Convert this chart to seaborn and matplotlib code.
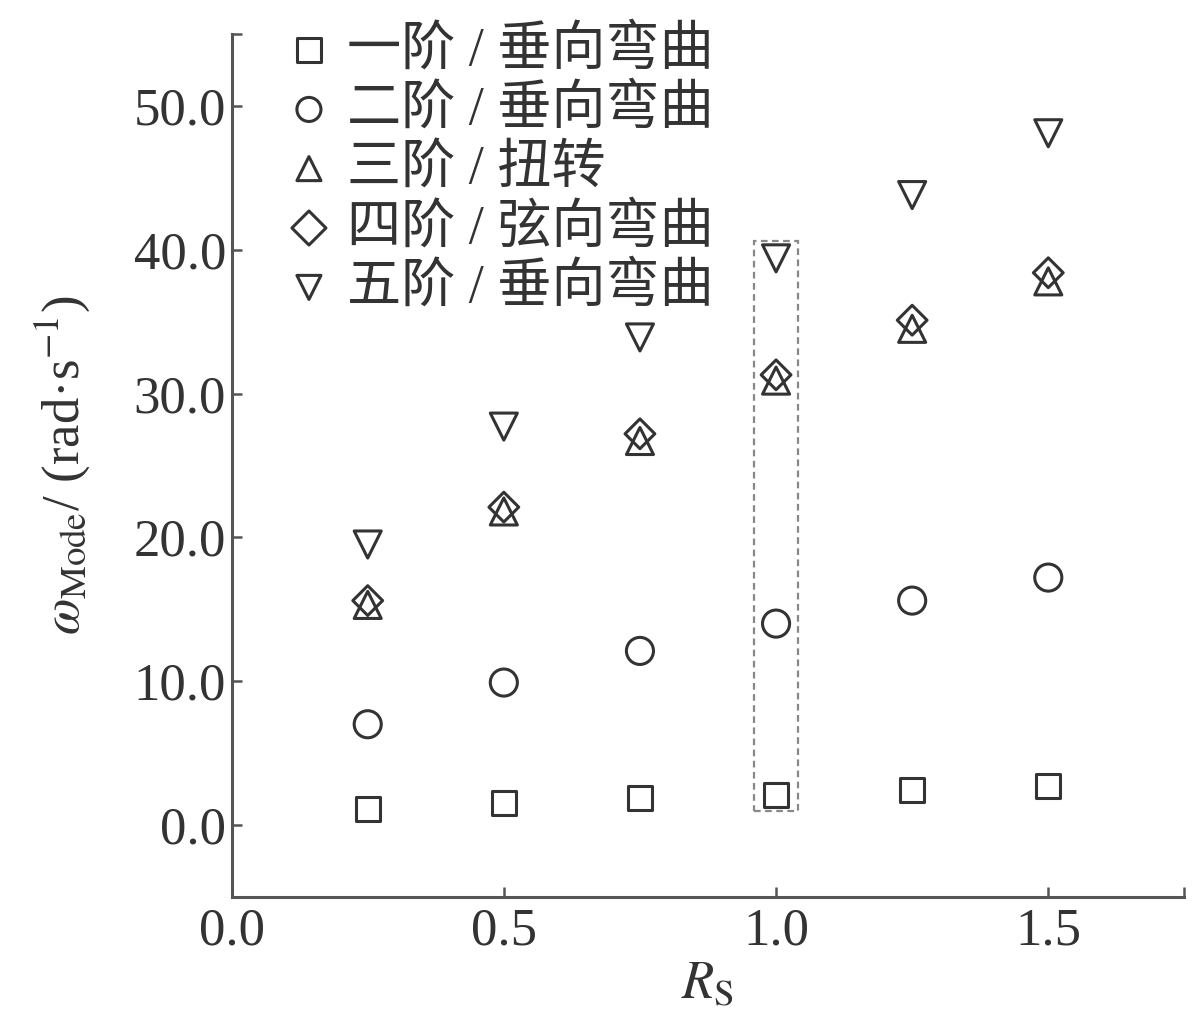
import numpy as np
import pandas as pd
import matplotlib
matplotlib.use("Agg")
import matplotlib.pyplot as plt
import seaborn as sns
from matplotlib.patches import Rectangle
from matplotlib.ticker import FormatStrFormatter

# data
rs = [0.25, 0.5, 0.75, 1.0, 1.25, 1.5]
mode1 = [1.1, 1.5, 1.9, 2.1, 2.4, 2.7]
mode2 = [7.0, 9.9, 12.1, 14.0, 15.6, 17.2]
mode3 = [15.3, 21.8, 26.7, 30.9, 34.5, 37.8]
mode4 = [15.6, 22.1, 27.2, 31.3, 35.1, 38.4]
mode5 = [19.5, 27.7, 33.9, 39.4, 43.8, 48.1]

labels = ['一阶 / 垂向弯曲', '二阶 / 垂向弯曲', '三阶 / 扭转',
          '四阶 / 弦向弯曲', '五阶 / 垂向弯曲']
markers = ['s', 'o', '^', 'D', 'v']
sizes = [300, 380, 380, 230, 380]

sns.set_theme(style="ticks")
plt.rcParams['font.family'] = ['Liberation Serif', 'Noto Sans CJK SC']
plt.rcParams['mathtext.fontset'] = 'stix'

ink = '#333333'
fig = plt.figure(figsize=(12, 10.32), dpi=100)
ax = fig.add_axes([0.193, 0.131, 0.794, 0.836])

for vals, lab, mk, sz in zip([mode1, mode2, mode3, mode4, mode5],
                             labels, markers, sizes):
    sns.scatterplot(x=rs, y=vals, marker=mk, s=sz, facecolor='none',
                    edgecolor=ink, linewidth=2.2, label=lab, ax=ax)

# dashed box around R_S = 1.0
ax.add_patch(Rectangle((0.96, 1.0), 0.08, 39.6, fill=False,
                       edgecolor='#888888', linestyle=(0, (3, 2)),
                       linewidth=1.6))

ax.set_xlim(0, 1.75)
ax.set_ylim(-5, 55)
ax.set_xticks([0.0, 0.5, 1.0, 1.5])
ax.set_yticks([0, 10, 20, 30, 40, 50])
ax.set_xticks([1.75], minor=True)
ax.set_yticks([55], minor=True)
ax.xaxis.set_major_formatter(FormatStrFormatter('%.1f'))
ax.yaxis.set_major_formatter(FormatStrFormatter('%.1f'))

for side in ['top', 'right']:
    ax.spines[side].set_visible(False)
for side in ['left', 'bottom']:
    ax.spines[side].set_color('#555555')
    ax.spines[side].set_linewidth(2.2)

ax.tick_params(which='both', direction='in', length=7, width=1.8,
               color='#555555', labelsize=38, labelcolor=ink)
ax.tick_params(axis='x', pad=8)
ax.tick_params(axis='y', pad=4)

ax.set_xlabel(r'$R_{\mathrm{S}}$', fontsize=38, color=ink, labelpad=4)
ax.set_ylabel(r'$\omega_{\mathrm{Mode}}$/ (rad·s$^{-1}$)', fontsize=38,
              color=ink, labelpad=30)

leg = ax.legend(loc='upper left', bbox_to_anchor=(0.03, 1.035), frameon=False,
                fontsize=39, labelspacing=0.16, handletextpad=0.2,
                borderaxespad=0, handlelength=1.0)
for t in leg.get_texts():
    t.set_color(ink)
for h in leg.legend_handles:
    h.set_sizes([300])

fig.savefig('out.png', dpi=100)
